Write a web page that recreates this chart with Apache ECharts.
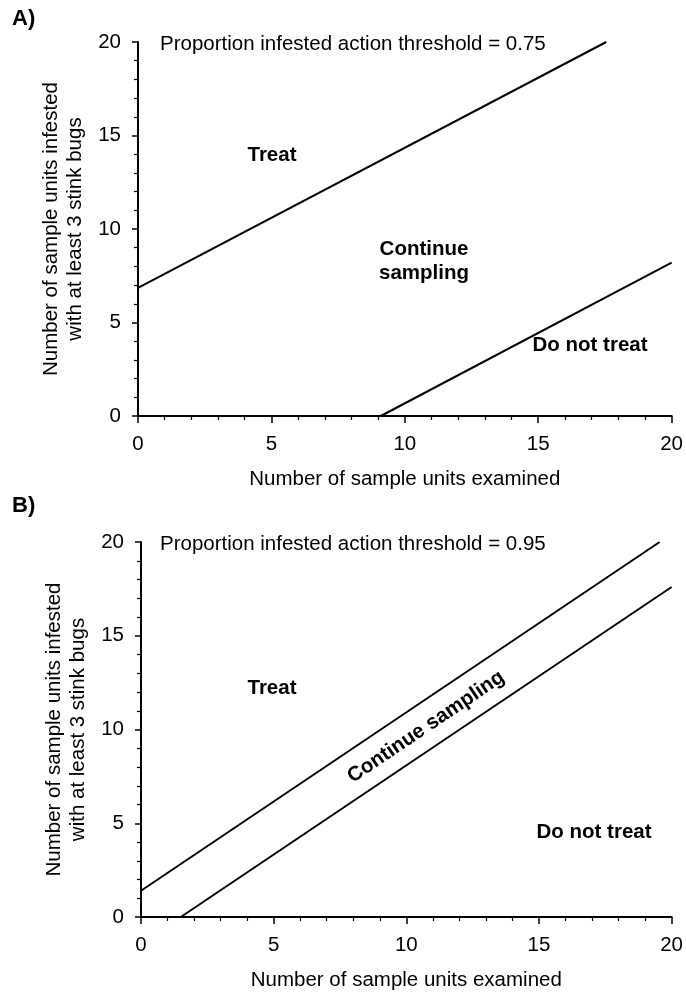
<!DOCTYPE html>
<html>
<head>
<meta charset="utf-8">
<script src="https://cdn.jsdelivr.net/npm/echarts@6/dist/echarts.min.js"></script>
<style>
html,body{margin:0;padding:0;background:#fff;}
#chart{width:686px;height:993px;}
</style>
</head>
<body>
<div id="chart"></div>
<script>
// Data
const xTicks = [0, 5, 10, 15, 20];
const yTicks = [0, 5, 10, 15, 20];
const thresholdA = 0.75;
const thresholdB = 0.95;
// line endpoints [x, y]
const aUpper = [[0, 6.85], [17.55, 20]];
const aLower = [[9.1, 0], [20, 8.2]];
const bUpper = [[0, 1.4], [19.55, 20]];
const bLower = [[1.5, 0], [20, 17.6]];

const FONT = 'Liberation Sans, Arial, sans-serif';
const FS = 20.5;
const black = '#000';

function xAxis(idx) {
  return {
    gridIndex: idx, type: 'value', min: xTicks[0], max: xTicks[xTicks.length - 1], interval: 5,
    name: 'Number of sample units examined', nameLocation: 'middle', nameGap: 53,
    nameTextStyle: {fontFamily: FONT, fontSize: FS, color: black},
    axisLine: {show: true, onZero: false, lineStyle: {color: black, width: 2}},
    axisTick: {show: true, length: 7, inside: false, lineStyle: {color: black, width: 1.5}},
    minorTick: {show: true, splitNumber: 5, length: 4, lineStyle: {color: black, width: 1.2}},
    splitLine: {show: false},
    axisLabel: {fontFamily: FONT, fontSize: FS, color: black, margin: 18}
  };
}
function yAxis(idx) {
  return {
    gridIndex: idx, type: 'value', min: yTicks[0], max: yTicks[yTicks.length - 1], interval: 5,
    name: 'Number of sample units infested\nwith at least 3 stink bugs', nameLocation: 'middle', nameGap: 50,
    nameTextStyle: {fontFamily: FONT, fontSize: FS, color: black, lineHeight: 24},
    axisLine: {show: true, onZero: false, lineStyle: {color: black, width: 2}},
    axisTick: {show: true, length: 6, inside: false, lineStyle: {color: black, width: 1.5}},
    minorTick: {show: true, splitNumber: 5, length: 4, lineStyle: {color: black, width: 1.2}},
    splitLine: {show: false},
    axisLabel: {fontFamily: FONT, fontSize: FS, color: black, margin: 17}
  };
}
function line(data, x, y) {
  return {
    type: 'line', xAxisIndex: x, yAxisIndex: y, data: data, symbol: 'none',
    lineStyle: {color: black, width: 2}, animation: false, silent: true
  };
}
const bold = {fontFamily: FONT, fontSize: FS, fontWeight: 'bold', fill: black};
const reg = {fontFamily: FONT, fontSize: FS, fill: black};

const chart = echarts.init(document.getElementById('chart'));
chart.setOption({
  animation: false,
  backgroundColor: '#fff',
  grid: [
    {left: 138, right: 14, top: 42, height: 374},
    {left: 141, right: 11, top: 542, height: 375}
  ],
  xAxis: [xAxis(0), xAxis(1)],
  yAxis: [yAxis(0), yAxis(1)],
  series: [line(aUpper, 0, 0), line(aLower, 0, 0), line(bUpper, 1, 1), line(bLower, 1, 1)],
  graphic: [
    {type: 'text', x: 12, y: 19, style: Object.assign({}, bold, {text: 'A)', fontSize: 22, verticalAlign: 'middle'})},
    {type: 'text', x: 12, y: 506, style: Object.assign({}, bold, {text: 'B)', fontSize: 22, verticalAlign: 'middle'})},
    {type: 'text', x: 160, y: 44, style: Object.assign({}, reg, {text: 'Proportion infested action threshold = ' + thresholdA, verticalAlign: 'middle'})},
    {type: 'text', x: 160, y: 544, style: Object.assign({}, reg, {text: 'Proportion infested action threshold = ' + thresholdB, verticalAlign: 'middle'})},
    {type: 'text', x: 272, y: 155, style: Object.assign({}, bold, {text: 'Treat', align: 'center', verticalAlign: 'middle'})},
    {type: 'text', x: 424, y: 261, style: Object.assign({}, bold, {text: 'Continue\nsampling', align: 'center', verticalAlign: 'middle', lineHeight: 24})},
    {type: 'text', x: 590, y: 345, style: Object.assign({}, bold, {text: 'Do not treat', align: 'center', verticalAlign: 'middle'})},
    {type: 'text', x: 272, y: 688, style: Object.assign({}, bold, {text: 'Treat', align: 'center', verticalAlign: 'middle'})},
    {type: 'text', x: 594, y: 832, style: Object.assign({}, bold, {text: 'Do not treat', align: 'center', verticalAlign: 'middle'})},
    {type: 'text', x: 426, y: 727, rotation: Math.atan(0.675), style: Object.assign({}, bold, {text: 'Continue sampling', align: 'center', verticalAlign: 'middle'})}
  ]
});
</script>
</body>
</html>
